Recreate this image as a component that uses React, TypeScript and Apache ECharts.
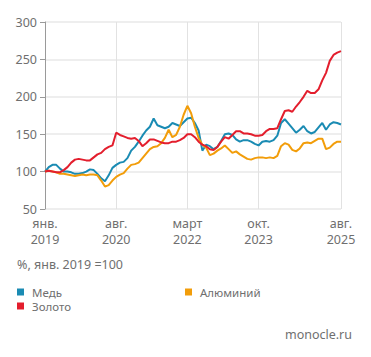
import React, { useEffect, useRef } from "react";
import * as echarts from "echarts";

const startYear = 2019;
const monthCount = 80;
const categories: string[] = [];
for (let i = 0; i < monthCount; i++) {
  const y = startYear + Math.floor(i / 12);
  const m = (i % 12) + 1;
  categories.push(`${y}-${String(m).padStart(2, "0")}`);
}

const tickIndices = [0, 19, 38, 57, 79];
const tickLabels = ["янв.\n2019", "авг.\n2020", "март\n2022", "окт.\n2023", "авг.\n2025"];

const copper = [
  100, 106, 109, 109, 104, 100, 100, 99, 97, 97,
  98, 100, 103, 102, 97, 91, 87, 95, 105, 109,
  112, 113, 118, 128, 133, 140, 148, 155, 160, 171,
  162, 160, 158, 160, 165, 163, 161, 166, 171, 172,
  165, 155, 128, 136, 134, 130, 133, 141, 150, 151,
  149, 143, 140, 142, 142, 140, 137, 135, 140, 141,
  140, 142, 148, 165, 170, 164, 158, 152, 156, 161,
  154, 151, 153, 159, 165, 156, 163, 166, 165, 163,
];

const aluminium = [
  100, 101, 100, 99, 97, 97, 96, 95, 94, 95,
  96, 95, 96, 96, 95, 88, 80, 82, 88, 93,
  96, 98, 104, 109, 110, 112, 118, 124, 130, 133,
  134, 138, 145, 156, 146, 149, 160, 176, 188, 178,
  160, 145, 136, 132, 122, 124, 128, 131, 135, 130,
  125, 127, 123, 120, 117, 116, 118, 119, 119, 118,
  119, 118, 121, 134, 138, 136, 129, 127, 131, 138,
  139, 138, 141, 144, 144, 130, 132, 137, 140, 140,
];

const gold = [
  100, 101, 100, 99, 99, 102, 106, 112, 116, 117,
  116, 115, 115, 119, 123, 125, 130, 133, 135, 152,
  149, 147, 145, 144, 145, 141, 134, 138, 143, 143,
  141, 139, 138, 138, 140, 140, 142, 145, 150, 150,
  146, 140, 136, 134, 130, 129, 133, 140, 146, 144,
  149, 154, 154, 151, 151, 150, 148, 148, 149, 154,
  157, 157, 158, 170, 181, 182, 180, 187, 193, 200,
  208, 205, 205, 210, 222, 232, 248, 256, 259, 261,
];

const seriesNames = ["Медь", "Алюминий", "Золото"];
const seriesColors = ["#1a8bb3", "#f29d0a", "#e31e2d"];

const FONT = "Noto Sans";
const TEXT = "#6f6f6f";

export default function App() {
  const ref = useRef<HTMLDivElement>(null);
  useEffect(() => {
    if (!ref.current) return;
    const chart = echarts.init(ref.current, null, { renderer: "svg" });
    const showTick = (i: number) => tickIndices.includes(i);
    const legendBase = {
      icon: "rect",
      itemWidth: 7,
      itemHeight: 7,
      itemGap: 10,
      orient: "horizontal",
      textStyle: { color: TEXT, fontSize: 11.5, fontFamily: FONT, lineHeight: 12, padding: [0, 0, 0, 3] },
      selectedMode: false,
      padding: 0,
    };
    chart.setOption({
      animation: false,
      textStyle: { fontFamily: FONT },
      grid: { left: 45, right: 30, top: 22, bottom: 148, containLabel: false },
      legend: [
        { ...legendBase, data: ["Медь"], left: 17, top: 286 },
        { ...legendBase, data: ["Алюминий"], left: 185, top: 286 },
        { ...legendBase, data: ["Золото"], left: 17, top: 300 },
      ],
      xAxis: {
        type: "category",
        data: categories,
        boundaryGap: false,
        axisLine: { show: false },
        axisTick: { show: false },
        axisLabel: {
          interval: (i: number) => showTick(i),
          formatter: (_v: string, i: number) => {
            const k = tickIndices.indexOf(i);
            return k >= 0 ? tickLabels[k] : "";
          },
          color: TEXT,
          fontSize: 12.5,
          fontFamily: FONT,
          lineHeight: 16,
          margin: 6,
        },
        splitLine: {
          show: true,
          interval: (i: number) => showTick(i),
          lineStyle: { color: "#e2e2e2", width: 1 },
        },
      },
      yAxis: {
        type: "value",
        min: 50,
        max: 300,
        interval: 50,
        axisLine: { show: true, lineStyle: { color: "#9a9a9a", width: 1 } },
        axisTick: { show: true, length: 5, lineStyle: { color: "#9a9a9a" } },
        axisLabel: { color: TEXT, fontSize: 12.5, fontFamily: FONT, margin: 8 },
        splitLine: { show: true, lineStyle: { color: "#e8e8e8", width: 1.5 } },
      },
      series: [
        { name: seriesNames[0], data: copper },
        { name: seriesNames[1], data: aluminium },
        { name: seriesNames[2], data: gold },
      ].map((s, i) => ({
        ...s,
        type: "line",
        showSymbol: false,
        symbol: "none",
        smooth: false,
        color: seriesColors[i],
        lineStyle: { width: 2, color: seriesColors[i] },
      })),
      graphic: [
        {
          type: "text",
          left: 17,
          top: 258,
          style: { text: "%, янв. 2019 =100", fill: TEXT, fontSize: 12.5, fontFamily: FONT },
        },
        {
          type: "text",
          right: 19,
          top: 328,
          style: { text: "monocle.ru", fill: TEXT, fontSize: 12.5, fontFamily: FONT },
        },
      ],
    });
    return () => chart.dispose();
  }, []);
  return <div ref={ref} style={{ width: 371, height: 357, margin: -8 }} />;
}
